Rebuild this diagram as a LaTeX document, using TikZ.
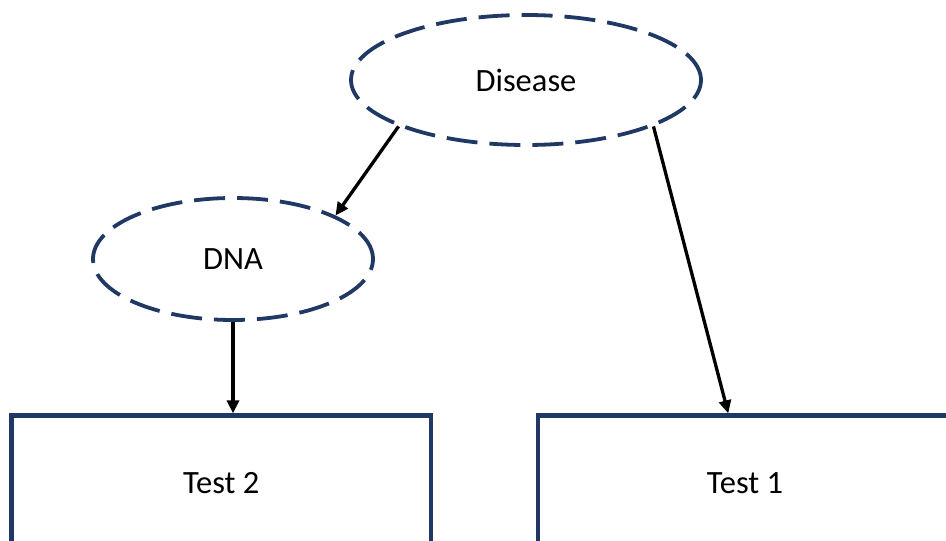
\documentclass[tikz,border=0pt]{standalone}
\usepackage{fontspec}
\setmainfont{Carlito}
\usetikzlibrary{arrows.meta,calc,shapes.geometric}
\definecolor{navy}{RGB}{31,56,100}
\begin{document}
\begin{tikzpicture}[x=1pt,y=-1pt,
  every node/.style={font=\fontsize{32.5}{38}\selectfont, inner sep=0pt},
  latent/.style={ellipse, draw=navy, line width=3.8pt, dash pattern=on 31pt off 12pt, fill=white},
  testbox/.style={rectangle, draw=navy, line width=4.2pt},
  conn/.style={draw=black, line width=3.3pt, -{Triangle[length=13pt,width=12pt]}}]
\useasboundingbox (0,0) rectangle (946,541);
\clip (0,0) rectangle (946,541);
\fill[white] (0,0) rectangle (946,541);
\node[latent, minimum width=350pt, minimum height=130pt] (D) at (526,80) {Disease};
\node[latent, minimum width=280pt, minimum height=122pt] (N) at (233,259) {DNA};
\node[testbox, minimum width=419.5pt, minimum height=134.5pt] (T2) at (221.25,482.75) {Test 2};
\node[testbox, minimum width=414pt, minimum height=134.5pt] (T1) at (745,482.75) {Test 1};
\draw[conn] (D.200) -- (N.23);
\draw[conn] (D.340) -- ($(T1.north west)!0.46!(T1.north east)$);
\draw[conn] (N.south) -- (N.south |- T2.north);
\end{tikzpicture}
\end{document}
